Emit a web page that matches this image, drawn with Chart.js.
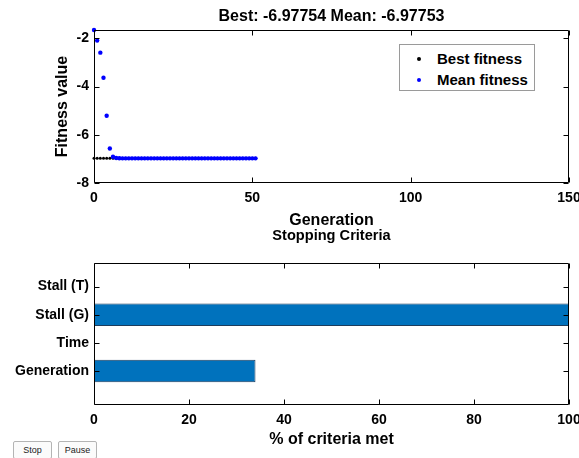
<!DOCTYPE html>
<html>
<head>
<meta charset="utf-8">
<script src="https://cdn.jsdelivr.net/npm/chart.js@4/dist/chart.umd.min.js"></script>
<style>
  body { margin: 0; background: #fff; width: 579px; height: 458px; overflow: hidden; position: relative; font-family: "Liberation Sans", Arial, sans-serif; }
  canvas { position: absolute; left: 0; }
  #topWrap { position: absolute; left: 0; top: 0; width: 579px; height: 232px; }
  #botWrap { position: absolute; left: 0; top: 226px; width: 579px; height: 232px; }
  .legend { position: absolute; left: 399px; top: 44px; width: 134px; height: 45px; border: 1px solid #9a9a9a; background: #fff; font: bold 15px "Liberation Sans", Arial, sans-serif; color: #000; }
  .legend div { position: absolute; left: 37px; }
  .legend span { position: absolute; left: -20px; top: 7px; width: 4px; height: 4px; border-radius: 50%; }
  .btn { position: absolute; top: 441px; height: 18px; width: 39px; border: 1px solid #b4b4b4; border-radius: 2px; background: #fbfbfb; font: 9px "Liberation Sans", Arial, sans-serif; color: #222; text-align: center; line-height: 17px; box-sizing: border-box; }
</style>
</head>
<body>
<div id="topWrap"><canvas id="fitChart" width="579" height="232"></canvas></div>
<div id="botWrap"><canvas id="stopChart" width="579" height="232"></canvas></div>
<div class="legend">
  <div style="top:5px"><span style="background:#000"></span>Best fitness</div>
  <div style="top:26px"><span style="background:#0000ff"></span>Mean fitness</div>
</div>
<div class="btn" style="left:13px">Stop</div>
<div class="btn" style="left:58px">Pause</div>
<script>
// dados
const generations = [0, 1, 2, 3, 4, 5, 6, 7, 8, 9, 10, 11, 12, 13, 14, 15, 16, 17, 18, 19, 20, 21, 22, 23, 24, 25,
  26, 27, 28, 29, 30, 31, 32, 33, 34, 35, 36, 37, 38, 39, 40, 41, 42, 43, 44, 45, 46, 47, 48, 49, 50, 51];
const bestFitness = [-6.97754, -6.97754, -6.97754, -6.97754, -6.97754, -6.97754, -6.97754, -6.97754, -6.97754, -6.97754,
  -6.97754, -6.97754, -6.97754, -6.97754, -6.97754, -6.97754, -6.97754, -6.97754, -6.97754, -6.97754,
  -6.97754, -6.97754, -6.97754, -6.97754, -6.97754, -6.97754, -6.97754, -6.97754, -6.97754, -6.97754,
  -6.97754, -6.97754, -6.97754, -6.97754, -6.97754, -6.97754, -6.97754, -6.97754, -6.97754, -6.97754,
  -6.97754, -6.97754, -6.97754, -6.97754, -6.97754, -6.97754, -6.97754, -6.97754, -6.97754, -6.97754,
  -6.97754, -6.97754];
const meanFitness = [-1.65, -2.09, -2.59, -3.63, -5.21, -6.57, -6.91, -6.96, -6.975, -6.9775,
  -6.9775, -6.9775, -6.9775, -6.9775, -6.9775, -6.9775, -6.9775, -6.9775, -6.9775, -6.9775,
  -6.9775, -6.9775, -6.9775, -6.9775, -6.9775, -6.9775, -6.9775, -6.9775, -6.9775, -6.9775,
  -6.9775, -6.9775, -6.9775, -6.9775, -6.9775, -6.9775, -6.9775, -6.9775, -6.9775, -6.9775,
  -6.9775, -6.9775, -6.9775, -6.9775, -6.9775, -6.9775, -6.9775, -6.9775, -6.9775, -6.9775,
  -6.97753, -6.97753];
const genTicks = [0, 50, 100, 150];
const fitTicks = [-8, -6, -4, -2];

const criteria = ['Generation', 'Time', 'Stall (G)', 'Stall (T)'];
const criteriaMet = [34, 0, 100, 0];
const criteriaPos = [1, 2, 3, 4];
const pctTicks = [0, 20, 40, 60, 80, 100];

const tickFont = { family: 'Liberation Sans', size: 14, weight: 'bold' };
const labelFont = { family: 'Liberation Sans', size: 16, weight: 'bold' };

// caixa e marcas para dentro, estilo MATLAB
const boxPlugin = {
    id: 'box',
    afterDraw(chart) {
        const { ctx, chartArea: a, scales } = chart;
        ctx.save();
        ctx.strokeStyle = '#000';
        ctx.lineWidth = 1;
        ctx.beginPath();
        const L = Math.round(a.left) + 0.5, R = Math.round(a.right) - 0.5;
        const T = Math.round(a.top) + 0.5, B = Math.round(a.bottom) - 0.5;
        ctx.rect(L, T, R - L, B - T);
        scales.x.ticks.forEach(t => {
            const px = Math.round(scales.x.getPixelForValue(t.value)) + 0.5;
            ctx.moveTo(px, B); ctx.lineTo(px, B - 5);
            ctx.moveTo(px, T); ctx.lineTo(px, T + 5);
        });
        scales.y.ticks.forEach(t => {
            const py = Math.round(scales.y.getPixelForValue(t.value)) + 0.5;
            ctx.moveTo(L, py); ctx.lineTo(L + 5, py);
            ctx.moveTo(R, py); ctx.lineTo(R - 5, py);
        });
        ctx.stroke();
        ctx.restore();
    }
};

function fixWidth(w) {
    return scale => { scale.width = w; scale.paddingTop = 0; scale.paddingBottom = 0; };
}
function fixHeight(h) {
    return scale => { scale.height = h; scale.paddingLeft = 0; scale.paddingRight = 0; };
}

new Chart(document.getElementById('fitChart'), {
    type: 'scatter',
    data: {
        datasets: [{
            label: 'Mean fitness',
            data: generations.map((g, i) => ({ x: g, y: meanFitness[i] })),
            backgroundColor: '#0000ff',
            borderWidth: 0,
            pointRadius: 2.2,
            clip: false
        }, {
            label: 'Best fitness',
            data: generations.map((g, i) => ({ x: g, y: bestFitness[i] })),
            backgroundColor: '#000',
            borderWidth: 0,
            pointRadius: 1.5,
            clip: false
        }]
    },
    options: {
        responsive: false,
        animation: false,
        layout: { padding: { left: 0, right: 10, top: 0, bottom: 0 } },
        plugins: {
            legend: { display: false },
            tooltip: { enabled: false },
            title: {
                display: true,
                fullSize: false,
                text: 'Best: -6.97754 Mean: -6.97753',
                color: '#000',
                font: labelFont,
                padding: { top: 7.4, bottom: 3.4 }
            }
        },
        scales: {
            x: {
                type: 'linear', min: 0, max: 150,
                afterBuildTicks: s => { s.ticks = genTicks.map(v => ({ value: v })); },
                afterFit: fixHeight(49),
                grid: { display: false, drawTicks: false },
                border: { display: false },
                ticks: { color: '#000', font: tickFont, padding: 6.6, maxRotation: 0 },
                title: { display: true, text: 'Generation', color: '#000', font: labelFont, padding: { top: 0, bottom: 2 } }
            },
            y: {
                type: 'linear', min: -8, max: -1.65,
                afterBuildTicks: s => { s.ticks = fitTicks.map(v => ({ value: v })); },
                afterFit: fixWidth(94),
                grid: { display: false, drawTicks: false },
                border: { display: false },
                ticks: { color: '#000', font: tickFont, padding: 5 },
                title: { display: true, text: 'Fitness value', color: '#000', font: labelFont, padding: { top: 53, bottom: 0 } }
            }
        }
    },
    plugins: [boxPlugin]
});

new Chart(document.getElementById('stopChart'), {
    type: 'bar',
    data: {
        datasets: [{
            data: criteriaPos.map((p, i) => ({ x: criteriaMet[i], y: p })),
            backgroundColor: '#0072bd',
            borderColor: '#1d3c5c',
            borderWidth: 1,
            borderSkipped: false,
            categoryPercentage: 1,
            barPercentage: 0.8
        }]
    },
    options: {
        indexAxis: 'y',
        responsive: false,
        animation: false,
        layout: { padding: { left: 0, right: 10, top: 0, bottom: 0 } },
        plugins: {
            legend: { display: false },
            tooltip: { enabled: false },
            title: {
                display: true,
                fullSize: false,
                text: 'Stopping Criteria',
                color: '#000',
                font: { family: 'Liberation Sans', size: 14.6, weight: 'bold' },
                padding: { top: 1, bottom: 18.5 }
            }
        },
        scales: {
            x: {
                type: 'linear', min: 0, max: 100,
                afterBuildTicks: s => { s.ticks = pctTicks.map(v => ({ value: v })); },
                afterFit: fixHeight(53),
                grid: { display: false, drawTicks: false },
                border: { display: false },
                ticks: { color: '#000', font: tickFont, padding: 6.6, maxRotation: 0 },
                title: { display: true, text: '% of criteria met', color: '#000', font: labelFont, padding: { top: 0, bottom: 8.4 } }
            },
            y: {
                type: 'linear', min: -0.21, max: 4.84, offset: false,
                afterBuildTicks: s => { s.ticks = criteriaPos.map(v => ({ value: v })); },
                afterFit: fixWidth(94),
                grid: { display: false, drawTicks: false, offset: false },
                border: { display: false },
                ticks: { color: '#000', font: tickFont, padding: 5, callback: v => criteria[criteriaPos.indexOf(v)] }
            }
        }
    },
    plugins: [boxPlugin]
});
</script>
</body>
</html>
